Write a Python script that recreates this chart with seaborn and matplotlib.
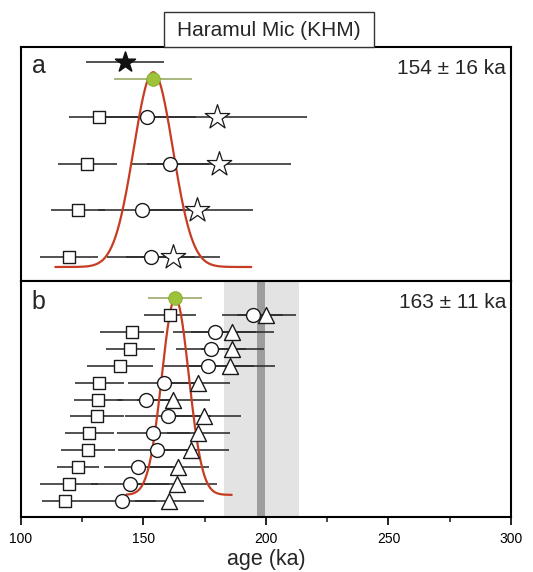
import numpy as np
import pandas as pd
import matplotlib
matplotlib.use("Agg")
import matplotlib.pyplot as plt
import seaborn as sns
from matplotlib.patches import Rectangle
from matplotlib.ticker import MultipleLocator

# ---------------- data ----------------
title = "Haramul Mic (KHM)"
a_text = "154 ± 16 ka"
b_text = "163 ± 11 ka"

# panel a: weighted mean and reference (black star)
a_mean, a_mean_err = 154, 16
a_ref, a_ref_err = 142.5, 16
# panel a rows, top to bottom
a_square = [131.9, 127.0, 123.3, 119.6]
a_square_err = [12.3, 12.0, 11.0, 12.0]
a_circle = [151.5, 160.9, 149.5, 153.2]
a_circle_err = [20.0, 16.0, 18.0, 18.0]
a_star = [180.2, 181.0, 172.0, 162.2]
a_star_err = [36.4, 29.4, 22.5, 19.2]

# panel b: weighted mean
b_mean, b_mean_err = 163, 11
# panel b rows, top to bottom
b_square = [160.9, 145.4, 144.6, 140.5, 131.9, 131.5, 131.1, 127.8, 127.4, 123.3, 119.6, 118.0]
b_square_err = [10.5, 13.0, 10.0, 13.5, 10.0, 10.0, 11.0, 10.0, 11.0, 8.6, 11.8, 9.4]
b_circle = [194.5, 179.0, 177.7, 176.5, 158.5, 151.1, 160.1, 154.0, 155.6, 147.9, 144.6, 141.3]
b_circle_err = [12.3, 17.0, 14.3, 18.8, 15.0, 12.0, 17.6, 15.0, 16.0, 14.0, 16.0, 14.0]
b_tri = [200.2, 186.3, 186.3, 185.5, 172.4, 162.2, 174.8, 172.4, 169.5, 164.2, 163.8, 160.5]
b_tri_err = [12.0, 17.0, 13.0, 18.0, 13.0, 15.0, 15.0, 13.0, 15.6, 12.7, 16.4, 14.0]

# reference band in panel b
band_center, band_err = 198, 15.3
band_inner_err = 1.5

x_ticks = [100, 150, 200, 250, 300]
x_label = "age (ka)"

# ---------------- style ----------------
sns.set_theme(style="white")
plt.rcParams['font.family'] = ['Liberation Sans', 'DejaVu Sans']

LINE = "#2b2b2b"
RED = "#c63d24"
GREEN = "#9cc33a"
GREEN_LINE = "#aab77e"

fig = plt.figure(figsize=(5.33, 5.72), dpi=100)
W, H = 533, 572
ax_a = fig.add_axes([21 / W, 1 - 281 / H, 490 / W, 234 / H])
ax_b = fig.add_axes([21 / W, 1 - 517 / H, 490 / W, 236 / H])


def gauss_curve(ax, mu, err, lo, hi, base, peak):
    sig = err / 2.0
    xs = np.linspace(lo, hi, 300)
    ys = base + (peak - base) * np.exp(-0.5 * ((xs - mu) / sig) ** 2)
    df = pd.DataFrame({"x": xs, "y": ys})
    sns.lineplot(data=df, x="x", y="y", ax=ax, color=RED, lw=1.6,
                 sort=False, zorder=3, estimator=None)


def rows(ax, vals, errs, ys, marker, ms, face="white", lw=1.0):
    df = pd.DataFrame({"x": vals, "y": ys})
    ax.errorbar(vals, ys, xerr=errs, fmt="none", ecolor=LINE, elinewidth=1.15,
                capsize=0, zorder=2)
    sns.scatterplot(data=df, x="x", y="y", ax=ax, marker=marker, s=ms ** 2,
                    facecolor=face, edgecolor="#1a1a1a", linewidth=lw, zorder=5,
                    legend=False)


# ---------------- panel a ----------------
na = len(a_square)
ya = np.arange(na)[::-1].astype(float)
y_green_a = na - 1 + 0.81
y_ref_a = na - 1 + 1.18
gauss_curve(ax_a, a_mean, a_mean_err, a_mean - 40, a_mean + 40, -0.21, y_green_a + 0.15)
rows(ax_a, a_square, a_square_err, ya, "s", 8.8)
rows(ax_a, a_circle, a_circle_err, ya, "o", 10.0)
rows(ax_a, a_star, a_star_err, ya, "*", 18.5, lw=0.9)
# reference star
ax_a.errorbar([a_ref], [y_ref_a], xerr=[a_ref_err], fmt="none", ecolor=LINE,
              elinewidth=1.15, capsize=0, zorder=2)
sns.scatterplot(x=[a_ref], y=[y_ref_a], ax=ax_a, marker="*", s=15 ** 2,
                color="#111111", edgecolor="#111111", zorder=5, legend=False)
# mean
ax_a.errorbar([a_mean], [y_green_a], xerr=[a_mean_err], fmt="none",
              ecolor=GREEN_LINE, elinewidth=1.4, capsize=0, zorder=4)
sns.scatterplot(x=[a_mean], y=[y_green_a], ax=ax_a, marker="o", s=9.8 ** 2,
                color=GREEN, edgecolor="#86a82c", linewidth=0.6, zorder=6, legend=False)
ax_a.set_ylim(-0.51, na - 1 + 1.5)

# ---------------- panel b ----------------
nb = len(b_square)
yb = np.arange(nb)[::-1].astype(float)
y_green_b = float(nb)
ax_b.axvspan(band_center - band_err, band_center + band_err, color="#e3e3e3", lw=0, zorder=0)
ax_b.axvspan(band_center - band_inner_err, band_center + band_inner_err, color="#9d9d9d", lw=0, zorder=1)
gauss_curve(ax_b, b_mean, b_mean_err, 143, 186, 0.36, y_green_b)
rows(ax_b, b_square, b_square_err, yb, "s", 9.0)
rows(ax_b, b_circle, b_circle_err, yb, "o", 10.0)
rows(ax_b, b_tri, b_tri_err, yb, "^", 11.5)
ax_b.errorbar([b_mean], [y_green_b], xerr=[b_mean_err], fmt="none",
              ecolor=GREEN_LINE, elinewidth=1.4, capsize=0, zorder=4)
sns.scatterplot(x=[b_mean], y=[y_green_b], ax=ax_b, marker="o", s=9.8 ** 2,
                color=GREEN, edgecolor="#86a82c", linewidth=0.6, zorder=6, legend=False)
ax_b.set_ylim(-0.95, 13.02)

# ---------------- axes styling ----------------
for ax in (ax_a, ax_b):
    ax.set_xlim(x_ticks[0], x_ticks[-1])
    ax.set_yticks([])
    ax.set_ylabel("")
    ax.set_xlabel("")
    for sp in ax.spines.values():
        sp.set_visible(True)
        sp.set_linewidth(1.5)
        sp.set_color("black")

ax_a.set_xticks([])
ax_b.set_xticks(x_ticks)
ax_b.xaxis.set_minor_locator(MultipleLocator(25))
ax_b.tick_params(axis="x", which="major", direction="out", length=6, width=1.2,
                 labelsize=10, pad=4.5, bottom=True, colors="black")
ax_b.tick_params(axis="x", which="minor", direction="out", length=3.5, width=1.2,
                 bottom=True)
ax_b.set_xlabel(x_label, fontsize=15.5, labelpad=2.5)

ax_a.text(0.022, 0.92, "a", transform=ax_a.transAxes, fontsize=18, va="center", ha="left")
ax_b.text(0.022, 0.91, "b", transform=ax_b.transAxes, fontsize=18, va="center", ha="left")
ax_a.text(0.99, 0.906, a_text, transform=ax_a.transAxes, fontsize=15, va="center", ha="right")
ax_b.text(0.99, 0.907, b_text, transform=ax_b.transAxes, fontsize=15, va="center", ha="right")

# title box
fig.patches.append(Rectangle((164 / W, 1 - 47 / H), 210 / W, 35 / H, transform=fig.transFigure,
                             facecolor="white", edgecolor="#333333", lw=1.0, zorder=0))
fig.text(269 / W, 1 - 30 / H, title, fontsize=15, ha="center", va="center")

fig.savefig("out.png", dpi=100)
